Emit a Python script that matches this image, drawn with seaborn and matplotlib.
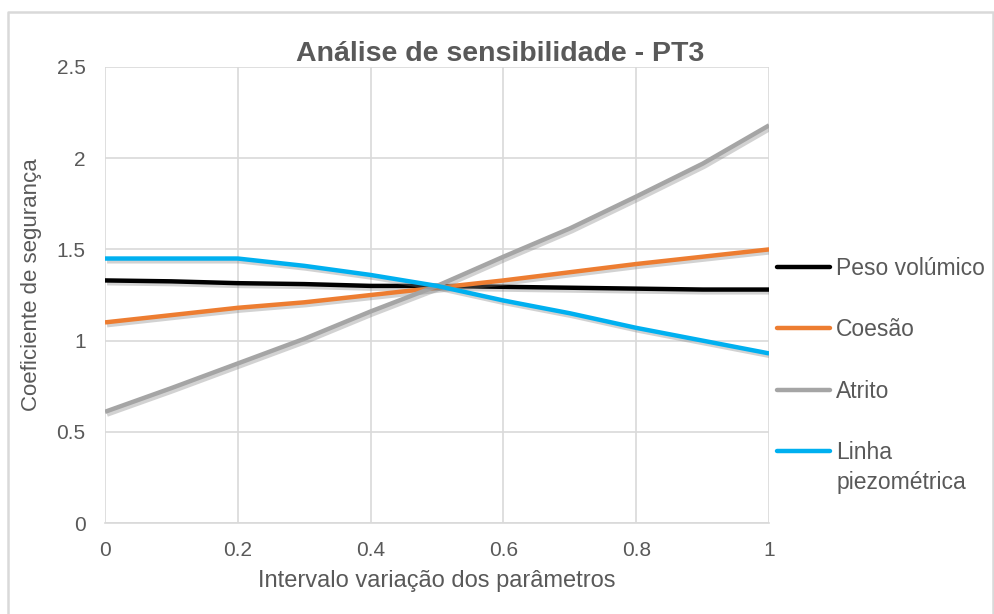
import matplotlib
matplotlib.use("Agg")
import matplotlib.pyplot as plt
import matplotlib.patheffects as pe
from matplotlib.lines import Line2D
import seaborn as sns
import pandas as pd

# Sensitivity analysis data (normalised parameter interval)
intervalo = [0.0, 0.1, 0.2, 0.3, 0.4, 0.5, 0.6, 0.7, 0.8, 0.9, 1.0]
peso_volumico = [1.33, 1.325, 1.315, 1.31, 1.30, 1.30, 1.295, 1.29, 1.285, 1.28, 1.28]
coesao = [1.10, 1.14, 1.18, 1.21, 1.25, 1.29, 1.33, 1.375, 1.42, 1.46, 1.50]
atrito = [0.61, 0.74, 0.875, 1.01, 1.16, 1.30, 1.46, 1.615, 1.79, 1.97, 2.18]
linha_piezometrica = [1.45, 1.45, 1.45, 1.41, 1.36, 1.30, 1.22, 1.15, 1.07, 1.00, 0.93]

series_names = ["Peso volúmico", "Coesão", "Atrito", "Linha piezométrica"]
legend_first_lines = ["Peso volúmico", "Coesão", "Atrito", "Linha"]
series_values = [peso_volumico, coesao, atrito, linha_piezometrica]
series_colors = ["#000000", "#ED7D31", "#A5A5A5", "#00B0F0"]

x_ticks = [0, 0.2, 0.4, 0.6, 0.8, 1]
x_tick_labels = ["0", "0.2", "0.4", "0.6", "0.8", "1"]
y_ticks = [0, 0.5, 1, 1.5, 2, 2.5]
y_tick_labels = ["0", "0.5", "1", "1.5", "2", "2.5"]

rows = []
for name, vals in zip(series_names, series_values):
    for x, v in zip(intervalo, vals):
        rows.append({"Intervalo": x, "FS": v, "Parâmetro": name})
df = pd.DataFrame(rows)

sns.set_theme(style="white")
plt.rcParams["font.family"] = ["Liberation Sans", "DejaVu Sans"]

text_color = "#595959"
grid_color = "#D9D9D9"

fig = plt.figure(figsize=(9.95, 6.14), dpi=100)
ax = fig.add_axes([0.1055, 0.148, 0.6675, 0.743])

sns.lineplot(
    data=df, x="Intervalo", y="FS", hue="Parâmetro",
    hue_order=series_names, palette=series_colors,
    linewidth=3.2, ax=ax, legend=False,
)

shadow = [pe.SimpleLineShadow(offset=(1.5, -2), shadow_color="#7f7f7f", alpha=0.35),
          pe.Normal()]
for line in ax.get_lines():
    line.set_path_effects(shadow)
    line.set_solid_capstyle("butt")

ax.set_xlim(0, 1)
ax.set_ylim(0, 2.5)
ax.set_xticks(x_ticks)
ax.set_xticklabels(x_tick_labels)
ax.set_yticks(y_ticks)
ax.set_yticklabels(y_tick_labels)
ax.tick_params(axis="both", labelsize=15, colors=text_color, length=0)
ax.tick_params(axis="y", pad=14)
ax.tick_params(axis="x", pad=13)

ax.grid(True, color=grid_color, linewidth=1.2)
ax.set_axisbelow(True)
for side in ["top", "right", "left"]:
    ax.spines[side].set_visible(False)
ax.spines["bottom"].set_color(grid_color)
ax.spines["bottom"].set_linewidth(1.2)

ax.set_xlabel("Intervalo variação dos parâmetros", fontsize=17, color=text_color, labelpad=7)
ax.set_ylabel("Coeficiente de segurança", fontsize=16, color=text_color)
ax.yaxis.set_label_coords(-0.095, 0.522)
fig.text(0.503, 0.900, "Análise de sensibilidade - PT3", fontsize=20.5, fontweight="bold",
         color=text_color, ha="center", va="baseline")

handles = [Line2D([], [], color=c, linewidth=3.2) for c in series_colors]
leg = fig.legend(
    handles, legend_first_lines, loc="upper left", bbox_to_anchor=(0.781, 0.582),
    frameon=False, fontsize=16.5, labelcolor=text_color,
    handlelength=2.3, handletextpad=0.28, labelspacing=1.68,
    borderpad=0, borderaxespad=0,
)
# second line of the last legend label, set directly below its first line
fig.canvas.draw()
renderer = fig.canvas.get_renderer()
bb = leg.get_texts()[3].get_window_extent(renderer)
inv = fig.transFigure.inverted()
x0, y0 = inv.transform((bb.x0, bb.y0))
fig.text(x0, y0 - 0.011, "piezométrica", fontsize=16.5, color=text_color,
         ha="left", va="top")

# light border around the chart area (left, top, right)
fig.add_artist(Line2D([0.008, 0.008, 0.998, 0.998], [0.0, 0.981, 0.981, 0.0],
                      transform=fig.transFigure, color=grid_color, linewidth=1.8))

fig.savefig("out.png", dpi=100)
